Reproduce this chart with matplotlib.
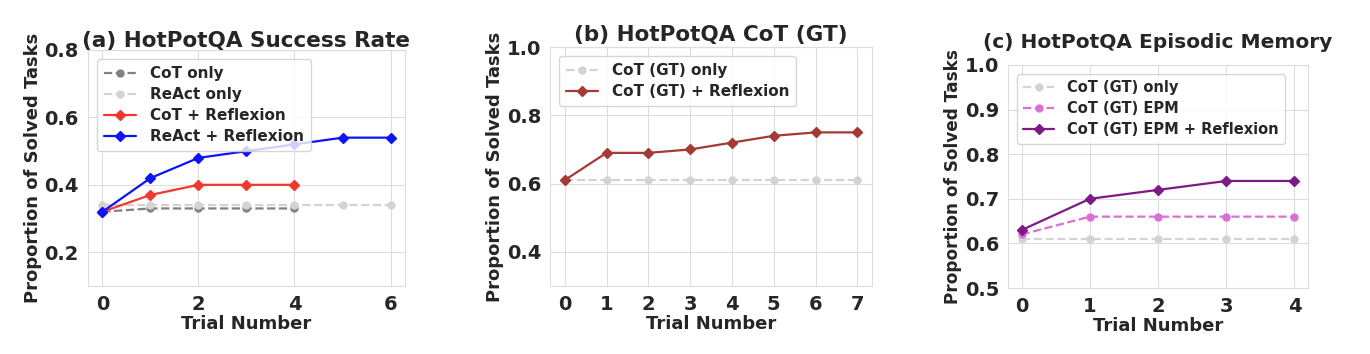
import matplotlib
matplotlib.use("Agg")
import matplotlib.pyplot as plt
import seaborn as sns

sns.set_style("whitegrid")
plt.rcParams['font.family'] = ['DejaVu Sans']
plt.rcParams['font.weight'] = 'bold'

# (a) HotPotQA Success Rate
a_cot_x = [0, 1, 2, 3, 4]
a_cot_only = [0.32, 0.33, 0.33, 0.33, 0.33]
a_react_x = [0, 1, 2, 3, 4, 5, 6]
a_react_only = [0.34, 0.34, 0.34, 0.34, 0.34, 0.34, 0.34]
a_cot_refl = [0.32, 0.37, 0.40, 0.40, 0.40]
a_react_refl = [0.32, 0.42, 0.48, 0.50, 0.52, 0.54, 0.54]

# (b) HotPotQA CoT (GT)
b_x = [0, 1, 2, 3, 4, 5, 6, 7]
b_cot_gt_only = [0.61, 0.61, 0.61, 0.61, 0.61, 0.61, 0.61, 0.61]
b_cot_gt_refl = [0.61, 0.69, 0.69, 0.70, 0.72, 0.74, 0.75, 0.75]

# (c) HotPotQA Episodic Memory
c_x = [0, 1, 2, 3, 4]
c_cot_gt_only = [0.61, 0.61, 0.61, 0.61, 0.61]
c_epm = [0.62, 0.66, 0.66, 0.66, 0.66]
c_epm_refl = [0.63, 0.70, 0.72, 0.74, 0.74]

fig = plt.figure(figsize=(13.7, 3.54), dpi=100)
axa = fig.add_axes([0.0642, 0.1921, 0.2314, 0.6667])
axb = fig.add_axes([0.4015, 0.1921, 0.2350, 0.6750])
axc = fig.add_axes([0.7358, 0.1864, 0.2190, 0.6300])

TXT = '#262626'
FS = 13
lw = 1.6
ms = 5

axa.plot(a_cot_x, a_cot_only, '--', marker='o', color='gray', lw=lw, ms=ms, label='CoT only')
axa.plot(a_react_x, a_react_only, '--', marker='o', color='#d3d3d3', lw=lw, ms=ms, label='ReAct only')
axa.plot(a_cot_x, a_cot_refl, '-', marker='D', color='#f0382e', lw=lw, ms=ms, label='CoT + Reflexion')
axa.plot(a_react_x, a_react_refl, '-', marker='D', color='#0f14f5', lw=lw, ms=ms, label='ReAct + Reflexion')
axa.set_ylim(0.1, 0.8)
axa.set_yticks([0.2, 0.4, 0.6, 0.8])
axa.set_xticks([0, 2, 4, 6])
axa.set_title('(a) HotPotQA Success Rate', fontsize=15.5, fontweight='bold', color=TXT, pad=2)

axb.plot(b_x, b_cot_gt_only, '--', marker='o', color='#d3d3d3', lw=lw, ms=ms, label='CoT (GT) only')
axb.plot(b_x, b_cot_gt_refl, '-', marker='D', color='#a33a36', lw=lw, ms=ms, label='CoT (GT) + Reflexion')
axb.set_ylim(0.3, 1.0)
axb.set_yticks([0.4, 0.6, 0.8, 1.0])
axb.set_xticks(b_x)
axb.set_title('(b) HotPotQA CoT (GT)', fontsize=15.5, fontweight='bold', color=TXT, pad=4)

axc.plot(c_x, c_cot_gt_only, '--', marker='o', color='#d3d3d3', lw=lw, ms=ms, label='CoT (GT) only')
axc.plot(c_x, c_epm, '--', marker='o', color='#da70d6', lw=lw, ms=ms, label='CoT (GT) EPM')
axc.plot(c_x, c_epm_refl, '-', marker='D', color='#7e1a86', lw=lw, ms=ms, label='CoT (GT) EPM + Reflexion')
axc.set_ylim(0.5, 1.0)
axc.set_yticks([0.5, 0.6, 0.7, 0.8, 0.9, 1.0])
axc.set_xticks(c_x)
axc.set_title('(c) HotPotQA Episodic Memory', fontsize=14.5, fontweight='bold', color=TXT, pad=12)

for ax, ylfs, lfs in ((axa, 13, 11), (axb, 13, 11), (axc, 12.2, 10.5)):
    ax.set_xlabel('Trial Number', fontsize=FS, fontweight='bold', color=TXT, labelpad=1)
    ax.set_ylabel('Proportion of Solved Tasks', fontsize=ylfs, fontweight='bold', color=TXT, labelpad=2)
    ax.tick_params(axis='both', labelsize=FS + 1, colors=TXT, pad=3)
    for lab in ax.get_xticklabels() + ax.get_yticklabels():
        lab.set_fontweight('bold')
    for s in ax.spines.values():
        s.set_color('#dddddd')
    ax.grid(color='#dddddd')
    leg = ax.legend(loc='upper left', prop={'weight': 'bold', 'size': lfs},
                    handlelength=2.1, borderpad=0.45, labelspacing=0.4, handletextpad=0.9,
                    borderaxespad=0.6)
    for t in leg.get_texts():
        t.set_color(TXT)

fig.savefig('out.png', dpi=100)
